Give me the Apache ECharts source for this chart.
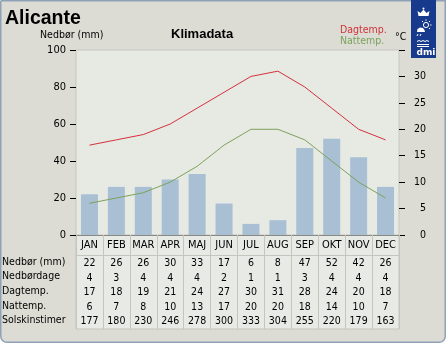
<!DOCTYPE html>
<html>
<head>
<meta charset="utf-8">
<script src="https://cdn.jsdelivr.net/npm/echarts@6/dist/echarts.min.js"></script>
<style>
  html, body { margin: 0; padding: 0; background: #ffffff; }
  #chart { width: 447px; height: 344px; }
</style>
</head>
<body>
<div id="chart"></div>
<script>
// Monthly climate normals for Alicante
const months = ['JAN', 'FEB', 'MAR', 'APR', 'MAJ', 'JUN', 'JUL', 'AUG', 'SEP', 'OKT', 'NOV', 'DEC'];
const precipitation = [22, 26, 26, 30, 33, 17, 6, 8, 47, 52, 42, 26];
const rainDays = [4, 3, 4, 4, 4, 2, 1, 1, 3, 4, 4, 4];
const dayTemp = [17, 18, 19, 21, 24, 27, 30, 31, 28, 24, 20, 18];
const nightTemp = [6, 7, 8, 10, 13, 17, 20, 20, 18, 14, 10, 7];
const sunHours = [177, 180, 230, 246, 278, 300, 333, 304, 255, 220, 179, 163];
const rowNames = ['Nedbør (mm)', 'Nedbørdage', 'Dagtemp.', 'Nattemp.', 'Solskinstimer'];
const tableRows = [precipitation, rainDays, dayTemp, nightTemp, sunHours];

const FONT = 'DejaVu Sans Condensed';
const SMALL = '10.5px "DejaVu Sans Condensed"';
const GRID = { left: 76, top: 50, width: 323, height: 185 };
const ROW_Y0 = 255, ROW_H = 14.6;

const chart = echarts.init(document.getElementById('chart'), null, { renderer: 'canvas' });

const graphics = [
  // outer panel
  { type: 'rect', z: -10, shape: { x: 0.75, y: 0.75, width: 444.5, height: 341.5, r: [0, 0, 6, 6] },
    style: { fill: '#dcdcd4', stroke: '#8fa2b5', lineWidth: 1.5 } },
  // table background
  { type: 'rect', z: -5, shape: { x: GRID.left, y: GRID.top + GRID.height, width: GRID.width, height: 94 },
    style: { fill: '#e8eae5', stroke: '#c4c5bd', lineWidth: 1 } },
  { type: 'line', z: 1, shape: { x1: GRID.left, y1: ROW_Y0 + 0.5, x2: GRID.left + GRID.width, y2: ROW_Y0 + 0.5 },
    style: { stroke: '#c4c5bd', lineWidth: 1 } },
  // titles
  { type: 'text', left: 5, top: 9, style: { text: 'Alicante', font: 'bold 19.5px "Liberation Sans"', fill: '#000' } },
  { type: 'text', left: 171, top: 28, style: { text: 'Klimadata', font: 'bold 13px "Liberation Sans"', fill: '#000' } },
  { type: 'text', left: 40, top: 30, style: { text: 'Nedbør (mm)', font: SMALL, fill: '#000' } },
  { type: 'text', left: 340, top: 25, style: { text: 'Dagtemp.', font: SMALL, fill: '#d0323a' } },
  { type: 'text', left: 340, top: 36, style: { text: 'Nattemp.', font: SMALL, fill: '#7ba25c' } },
  { type: 'text', left: 395, top: 32, style: { text: '°C', font: SMALL, fill: '#000' } },
  // DMI badge
  { type: 'rect', shape: { x: 411, y: 0, width: 25, height: 58 }, style: { fill: '#183a8c' } },
  { type: 'polygon', shape: { points: [[418.5, 16], [428.5, 16], [429.5, 11], [426.5, 13], [423.5, 9.5], [420.5, 13], [417.5, 11]] },
    style: { fill: '#ffffff' } },
  { type: 'circle', shape: { cx: 423.5, cy: 8.5, r: 1 }, style: { fill: '#ffffff' } },
  { type: 'circle', shape: { cx: 426, cy: 25, r: 2.6 }, style: { fill: 'none', stroke: '#ffffff', lineWidth: 1 } },
  { type: 'polyline', shape: { points: [[426, 19.5], [426, 20.8]] }, style: { stroke: '#fff', lineWidth: 1 } },
  { type: 'polyline', shape: { points: [[431.5, 25], [430.2, 25]] }, style: { stroke: '#fff', lineWidth: 1 } },
  { type: 'polyline', shape: { points: [[430, 21], [429, 22]] }, style: { stroke: '#fff', lineWidth: 1 } },
  { type: 'polyline', shape: { points: [[422, 21], [423, 22]] }, style: { stroke: '#fff', lineWidth: 1 } },
  { type: 'polyline', shape: { points: [[430, 29], [429, 28]] }, style: { stroke: '#fff', lineWidth: 1 } },
  { type: 'polygon', shape: { points: [[417, 32], [417.5, 29], [420, 27.5], [423, 28], [424.5, 30], [425, 32]] },
    style: { fill: '#ffffff' } },
  { type: 'polyline', shape: { points: [[418, 34], [417, 36]] }, style: { stroke: '#fff', lineWidth: 1 } },
  { type: 'polyline', shape: { points: [[421, 34], [420, 36]] }, style: { stroke: '#fff', lineWidth: 1 } },
  { type: 'polyline', shape: { points: [[417, 41.5], [419, 40.5], [421, 41.5], [423, 40.5], [425, 41.5], [427, 40.5], [429, 41.5]] },
    style: { stroke: '#fff', lineWidth: 1 } },
  { type: 'polyline', shape: { points: [[417, 44.5], [429, 44.5]] }, style: { stroke: '#fff', lineWidth: 1 } },
  { type: 'polyline', shape: { points: [[417, 46.5], [429, 46.5]] }, style: { stroke: '#fff', lineWidth: 1 } },
  { type: 'text', left: 416.5, top: 48, style: { text: 'dmi', font: 'bold 9px "DejaVu Sans"', fill: '#ffffff' } }
];

// row captions of the table
rowNames.forEach((name, i) => {
  graphics.push({
    type: 'text', left: 2, top: ROW_Y0 + i * ROW_H + 1.5,
    style: { text: name, font: SMALL, fill: '#000' }
  });
});

const option = {
  animation: false,
  grid: Object.assign({ show: true, backgroundColor: '#e7e9e3', borderColor: '#c6c7bf', borderWidth: 1 }, GRID),
  graphic: graphics,
  xAxis: {
    type: 'category',
    data: months,
    boundaryGap: true,
    axisLine: { lineStyle: { color: '#8a8a84', width: 1 } },
    axisTick: { show: true, interval: 0, length: 94, lineStyle: { color: '#c4c5bd' } },
    axisLabel: {
      interval: 0,
      margin: 0,
      color: '#000',
      fontFamily: FONT,
      formatter: (value, idx) => {
        const lines = ['{m|' + value + '}'];
        tableRows.forEach(row => lines.push('{v|' + row[idx] + '}'));
        return lines.join('\n');
      },
      rich: {
        m: { fontSize: 11, lineHeight: 21, fontFamily: FONT, color: '#000', align: 'center' },
        v: { fontSize: 10.5, lineHeight: ROW_H, fontFamily: FONT, color: '#000', align: 'center' }
      }
    }
  },
  yAxis: [
    {
      type: 'value', min: 0, max: 100, interval: 20, position: 'left',
      axisLine: { show: false },
      axisTick: { show: true, length: 6, lineStyle: { color: '#000' } },
      axisLabel: { color: '#000', fontFamily: FONT, fontSize: 11, margin: 10 },
      splitLine: { show: false }
    },
    {
      type: 'value', min: 0, max: 35, interval: 5, position: 'right',
      axisLine: { show: false },
      axisTick: { show: true, length: 6, lineStyle: { color: '#000' } },
      axisLabel: {
        color: '#000', fontFamily: FONT, fontSize: 10.5, margin: 27, align: 'right',
        formatter: v => (v === 35 ? '' : String(v))
      },
      splitLine: { show: false }
    }
  ],
  series: [
    {
      name: 'Nedbør (mm)', type: 'bar', yAxisIndex: 0, data: precipitation,
      barWidth: 17, itemStyle: { color: '#a8bfd4' }
    },
    {
      name: 'Dagtemp.', type: 'line', yAxisIndex: 1, data: dayTemp,
      symbol: 'none', lineStyle: { color: '#d4323b', width: 1 }
    },
    {
      name: 'Nattemp.', type: 'line', yAxisIndex: 1, data: nightTemp,
      symbol: 'none', lineStyle: { color: '#7ba25c', width: 1 }
    }
  ]
};

chart.setOption(option);
</script>
</body>
</html>
